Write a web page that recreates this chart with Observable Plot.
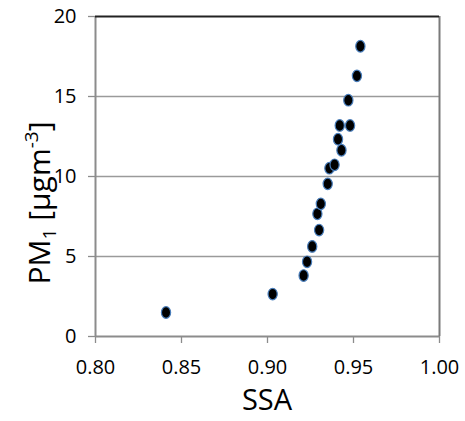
<!DOCTYPE html>
<html>
<head>
<meta charset="utf-8">
<script src="https://cdn.jsdelivr.net/npm/d3@7"></script>
<script src="https://cdn.jsdelivr.net/npm/@observablehq/plot@0.6"></script>
<style>
  html, body { margin: 0; padding: 0; background: #fff; }
</style>
</head>
<body>
<div id="chart"></div>
<script>
const ssa = [0.841, 0.903, 0.921, 0.923, 0.926, 0.930, 0.929, 0.931, 0.935, 0.936, 0.939, 0.943, 0.941, 0.942, 0.948, 0.947, 0.952, 0.954];
const pm1 = [1.50, 2.65, 3.81, 4.67, 5.63, 6.65, 7.67, 8.29, 9.54, 10.52, 10.73, 11.64, 12.33, 13.19, 13.19, 14.77, 16.29, 18.14];
const xTicks = [0.80, 0.85, 0.90, 0.95, 1.00];
const yTicks = [0, 5, 10, 15, 20];
const gridValues = [5, 10, 15];

const data = ssa.map((s, i) => ({ssa: s, pm1: pm1[i]}));

const ellipse = {
  draw(ctx) {
    const rx = 4.6, ry = 5.8, k = 0.5522848;
    ctx.moveTo(rx, 0);
    ctx.bezierCurveTo(rx, ry * k, rx * k, ry, 0, ry);
    ctx.bezierCurveTo(-rx * k, ry, -rx, ry * k, -rx, 0);
    ctx.bezierCurveTo(-rx, -ry * k, -rx * k, -ry, 0, -ry);
    ctx.bezierCurveTo(rx * k, -ry, rx, -ry * k, rx, 0);
    ctx.closePath();
  }
};

const chart = Plot.plot({
  width: 465,
  height: 421,
  marginLeft: 95,
  marginRight: 26,
  marginTop: 16,
  marginBottom: 85,
  style: {fontFamily: "'Open Sans', sans-serif", fontSize: "20px", color: "black", background: "white"},
  x: {domain: [0.8, 1.0], axis: null},
  y: {domain: [0, 20], axis: null},
  marks: [
    Plot.ruleY(gridValues, {stroke: "#9a9a9a", strokeWidth: 1.3}),
    Plot.axisX({ticks: xTicks, tickSize: 7, tickPadding: 16, stroke: "#8c8c8c", strokeWidth: 1.3, fill: "black", tickFormat: d3.format(".2f"), label: null}),
    Plot.axisY({ticks: yTicks, tickSize: 7, tickPadding: 12, stroke: "#8c8c8c", strokeWidth: 1.3, fill: "black", tickFormat: d3.format("d"), label: null}),
    Plot.ruleY([0], {stroke: "#8c8c8c", strokeWidth: 2}),
    Plot.ruleX([0.8], {stroke: "#8c8c8c", strokeWidth: 2}),
    Plot.ruleX([1.0], {stroke: "#7a7a7a", strokeWidth: 2}),
    Plot.ruleY([20], {stroke: "#222", strokeWidth: 2}),
    Plot.dot(data, {x: "ssa", y: "pm1", symbol: ellipse, r: 5, fill: "black", stroke: "#4a7ebb", strokeWidth: 1.2})
  ]
});

const svg = d3.select(chart);
// x axis title
svg.append("text")
  .attr("x", 267).attr("y", 410)
  .attr("text-anchor", "middle")
  .attr("font-family", "'Open Sans', sans-serif")
  .attr("font-size", 29)
  .attr("fill", "black")
  .text("SSA");
// y axis title with subscript / superscript
const yl = svg.append("text")
  .attr("transform", "translate(50,203) rotate(-90)")
  .attr("text-anchor", "middle")
  .attr("font-family", "'Open Sans', sans-serif")
  .attr("font-size", 30)
  .attr("fill", "black");
yl.append("tspan").text("PM");
yl.append("tspan").attr("font-size", 19).attr("dy", 6).text("1");
yl.append("tspan").attr("dy", -6).text(" [µgm");
yl.append("tspan").attr("font-size", 19).attr("dy", -12).text("-3");
yl.append("tspan").attr("dy", 12).text("]");

document.getElementById("chart").appendChild(chart);
</script>
</body>
</html>
